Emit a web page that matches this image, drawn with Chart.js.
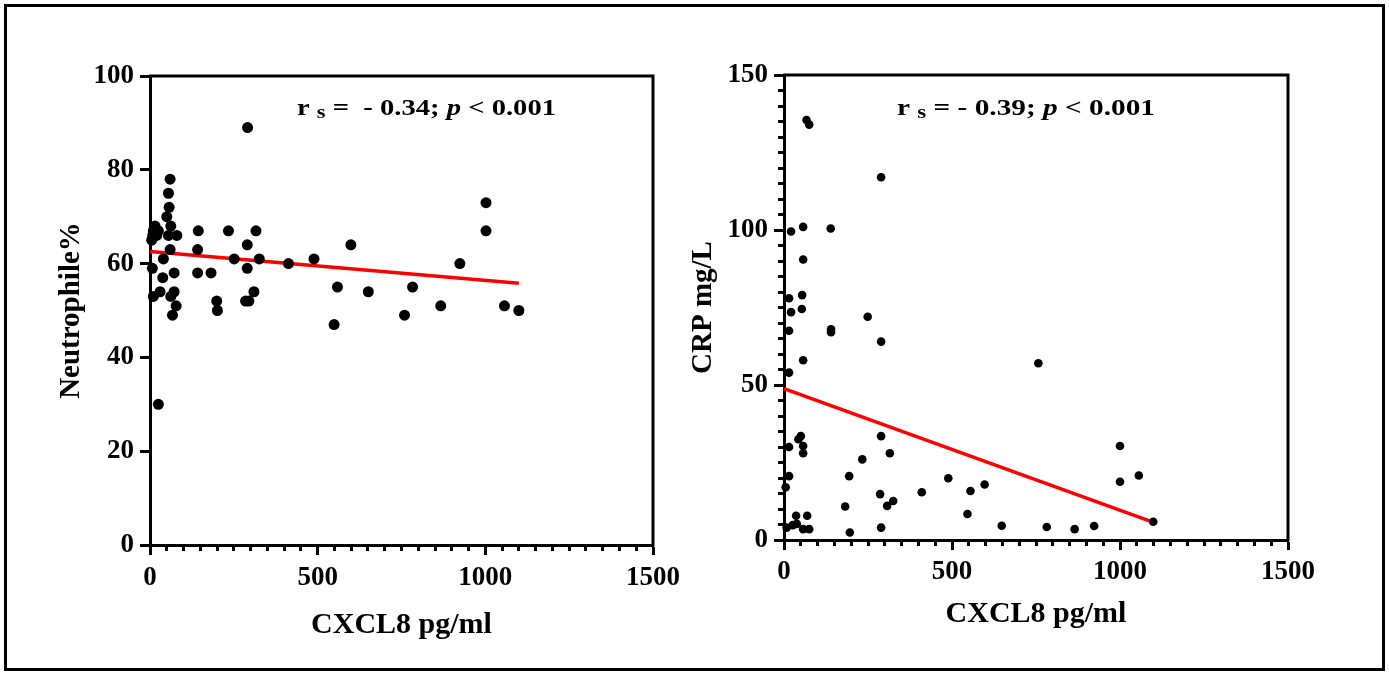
<!DOCTYPE html>
<html><head><meta charset="utf-8">
<script src="https://cdn.jsdelivr.net/npm/chart.js@4.4.1/dist/chart.umd.min.js"></script>
<style>
html,body{margin:0;padding:0;background:#fff;width:1389px;height:673px;overflow:hidden}
#frame{position:absolute;left:4px;top:4px;width:1381px;height:667px;box-sizing:border-box;border:3px solid #000}
#c1{position:absolute;left:0;top:0}
#c2{position:absolute;left:660px;top:0}
</style></head><body>
<div id="frame"></div>
<canvas id="c1" width="700" height="673"></canvas>
<canvas id="c2" width="729" height="673"></canvas>
<script>
// ---- data ----
const xTickValues = [0, 500, 1000, 1500];
const xMinorStep = 50;
const crpMinorStep = 5;
const cxcl8Neutro = [60,55,57,50,62,15,10,20,8,25,5,55,80,144,234,316,60,142,290,40,251,326,7,290,38,72,142,182,10,30,62,72,78,67,199,201,285,295,310,25,291,413,489,599,924,559,651,549,783,759,867,1057,1100,1002,1002];
const neutrophilePct = [78,75,72,70,68,68,67,66,66,67,65,66,66,67,67,67,63,63,64,61,61,61,59,59,57,58,58,58,53,54,53,54,51,49,52,50,52,52,54,30,89,60,61,64,60,55,54,47,55,49,51,51,50,73,67];
const cxcl8Crp = [67,75,289,21,57,139,57,15,54,21,53,249,15,140,140,289,57,15,50,43,57,57,15,289,315,233,15,5,194,286,307,325,182,410,489,546,555,597,36,69,8,26,38,57,75,196,289,757,1000,1000,1056,1099,648,782,865,923];
const crpMgL = [135.5,134,117,99.5,101,100.5,90.5,78,79,73.5,74.5,72,67.5,68,67,64,58,54,33.5,32.5,30.3,28,30,33.5,28,26,20.6,17,20.6,14.8,11,12.6,10.8,15.4,19.9,8.4,15.8,17.9,7.8,7.8,4,4.8,5.2,3.5,3.5,2.4,4,57,30.3,18.8,20.8,5.9,4.6,4.2,3.5,4.5];
const fitX = [0, 1100];
const fitNeutro = [62.6, 55.8];
const fitCrp = [48.8, 5.7];
const noteLeft = ['- 0.34', '0.001'];
const noteRight = ['- 0.39', '0.001'];

Chart.defaults.font.family = "'Liberation Serif','Times New Roman',serif";
Chart.defaults.font.weight = 'bold';
Chart.defaults.color = '#000';

const toPts = (xs, ys) => xs.map((x, i) => ({x, y: ys[i]}));
function minorValues(max, step, major) {
  const out = [];
  for (let v = step; v < max; v += step) if (v % major !== 0) out.push(v);
  return out;
}

function makeDeco(cfg) {
  return {
    id: 'deco_' + cfg.id,
    beforeDatasetsDraw(chart) {
      const {ctx, chartArea: a} = chart;
      ctx.save();
      ctx.strokeStyle = '#000';
      ctx.lineWidth = 3;
      ctx.beginPath();
      ctx.moveTo(a.left - 1, a.top);
      ctx.lineTo(a.right, a.top);
      ctx.lineTo(a.right, a.bottom + 1);
      ctx.stroke();
      ctx.restore();
    },
    afterDraw(chart) {
      const {ctx, chartArea: a} = chart;
      ctx.save();
      const n = cfg.note;
      const fam = "'Liberation Serif','Times New Roman',serif";
      const parts = [
        {t: 'r', f: 'bold 23px ' + fam, dy: 0},
        {t: ' ', f: 'bold 23px ' + fam, dy: 0},
        {t: 's', f: 'bold 18px ' + fam, dy: 3},
        {t: n.eq + n.r + '; ', f: 'bold 23px ' + fam, dy: 0},
        {t: 'p', f: 'italic bold 23px ' + fam, dy: 0},
        {t: ' < ' + n.p, f: 'bold 23px ' + fam, dy: 0}
      ];
      let total = 0;
      parts.forEach(p => { ctx.font = p.f; p.w = ctx.measureText(p.t).width; total += p.w; });
      const s = n.width / total;
      ctx.translate(a.left + n.dx, a.top + n.dy);
      ctx.scale(s, 1);
      ctx.fillStyle = '#000';
      ctx.textBaseline = 'alphabetic';
      ctx.textAlign = 'left';
      let cx = 0;
      parts.forEach(p => { ctx.font = p.f; ctx.fillText(p.t, cx, p.dy); cx += p.w; });
      ctx.restore();
    }
  };
}

function makeChart(cfg) {
  const scales = {
    x: {
      type: 'linear', min: 0, max: 1500, weight: 0,
      afterBuildTicks: s => { s.ticks = xTickValues.map(v => ({value: v})); },
      ticks: {color: '#000', font: {size: 27, weight: 'bold'}, padding: cfg.xTickPad, maxRotation: 0, autoSkip: false, callback: v => String(v)},
      grid: {display: true, drawOnChartArea: false, drawTicks: true, tickLength: 10, tickWidth: 3, tickColor: '#000'},
      border: {display: true, color: '#000', width: 3},
      title: {display: true, text: 'CXCL8 pg/ml', color: '#000', font: {size: 30, weight: 'bold'}, padding: {top: 0, bottom: cfg.xTitlePad}},
      afterFit: s => { s.height = cfg.xHeight; s.paddingLeft = 0; s.paddingRight = 0; }
    },
    xMinor: {
      type: 'linear', axis: 'x', position: 'bottom', min: 0, max: 1500, weight: -1,
      afterBuildTicks: s => { s.ticks = minorValues(1500, xMinorStep, 500).map(v => ({value: v})); },
      ticks: {display: false, autoSkip: false},
      grid: {display: true, drawOnChartArea: false, drawTicks: true, tickLength: 6, tickWidth: 3, tickColor: '#000'},
      border: {display: false},
      afterFit: s => { s.height = 0; s.paddingLeft = 0; s.paddingRight = 0; }
    },
    y: {
      type: 'linear', min: 0, max: cfg.yMax, weight: 0,
      ticks: {stepSize: cfg.yStep, color: '#000', font: {size: 27, weight: 'bold'}, padding: cfg.yTickPad, callback: v => String(v)},
      grid: {display: true, drawOnChartArea: false, drawTicks: true, tickLength: 10, tickWidth: 3, tickColor: '#000'},
      border: {display: true, color: '#000', width: 3},
      title: {display: true, text: cfg.yTitle, color: '#000', font: {size: 29, weight: 'bold'}, padding: {top: cfg.yTitlePad, bottom: 0}},
      afterFit: s => { s.width = cfg.yWidth; s.paddingTop = 0; s.paddingBottom = 0; }
    }
  };
  if (cfg.minorY) {
    scales.yMinor = {
      type: 'linear', axis: 'y', position: 'left', min: 0, max: cfg.yMax, weight: -1,
      afterBuildTicks: s => { s.ticks = minorValues(cfg.yMax, cfg.minorY, cfg.yStep).map(v => ({value: v})); },
      ticks: {display: false, autoSkip: false},
      grid: {display: true, drawOnChartArea: false, drawTicks: true, tickLength: 6, tickWidth: 3, tickColor: '#000'},
      border: {display: false},
      afterFit: s => { s.width = 0; s.paddingTop = 0; s.paddingBottom = 0; }
    };
  }
  return new Chart(document.getElementById(cfg.id), {
    type: 'scatter',
    data: {
      datasets: [
        {data: toPts(cfg.xs, cfg.ys), xAxisID: 'x', yAxisID: 'y', backgroundColor: '#000', borderColor: '#000', borderWidth: 0, pointRadius: cfg.r, pointHoverRadius: cfg.r, clip: false, order: 0},
        {data: toPts(fitX, cfg.fit), xAxisID: 'x', yAxisID: 'y', showLine: true, borderColor: '#ff0000', borderWidth: 3.5, pointRadius: 0, clip: false, order: 1}
      ]
    },
    options: {
      responsive: false, animation: false, events: [],
      layout: {padding: cfg.pad},
      scales,
      plugins: {legend: {display: false}, tooltip: {enabled: false}}
    },
    plugins: [makeDeco(cfg)]
  });
}

makeChart({
  id: 'c1', xs: cxcl8Neutro, ys: neutrophilePct, fit: fitNeutro, r: 5.5,
  yMax: 100, yStep: 20, yTitle: 'Neutrophile%', minorY: null,
  pad: {top: 76, right: 47, bottom: 0, left: 0},
  xHeight: 128, yWidth: 150, xTickPad: 7, yTickPad: 6, xTitlePad: 30, yTitlePad: 54,
  note: {dx: 147, dy: 39, width: 259, eq: ' =  ', r: noteLeft[0], p: noteLeft[1]}
});

makeChart({
  id: 'c2', xs: cxcl8Crp, ys: crpMgL, fit: fitCrp, r: 4.3,
  yMax: 150, yStep: 50, yTitle: 'CRP mg/L', minorY: crpMinorStep,
  pad: {top: 75, right: 101, bottom: 0, left: 0},
  xHeight: 133, yWidth: 124, xTickPad: 6, yTickPad: 6, xTitlePad: 41, yTitlePad: 26,
  note: {dx: 113, dy: 40, width: 258, eq: ' = ', r: noteRight[0], p: noteRight[1]}
});
</script>
</body></html>
